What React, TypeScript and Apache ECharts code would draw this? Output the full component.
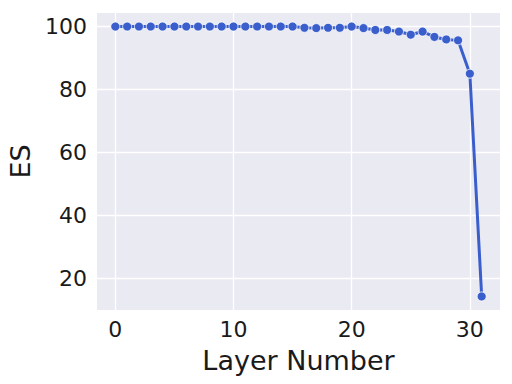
import React, { useEffect, useRef } from "react";
import * as echarts from "echarts";

const layers = Array.from({ length: 32 }, (_, i) => i);
const esValues = [
  100, 100, 100, 100, 100, 100, 100, 100, 100, 100, 100, 100, 100, 100, 100,
  100, 99.6, 99.5, 99.6, 99.6, 100, 99.5, 98.9, 98.9, 98.4, 97.4, 98.4, 96.7,
  95.9, 95.6, 85, 14.2,
];
const xTicks = [0, 10, 20, 30];
const yTicks = [20, 40, 60, 80, 100];

export default function App() {
  const ref = useRef<HTMLDivElement>(null);
  useEffect(() => {
    document.body.style.margin = "0";
    const chart = echarts.init(ref.current!, null, { renderer: "svg" });
    const font = "DejaVu Sans";
    chart.setOption({
      animation: false,
      backgroundColor: "#ffffff",
      grid: {
        left: 97,
        right: 12,
        top: 13,
        bottom: 74,
        show: true,
        backgroundColor: "#EAEAF2",
        borderWidth: 0,
        containLabel: false,
        outerBoundsMode: "none",
      },
      xAxis: {
        type: "value",
        min: -1.55,
        max: 32.55,
        name: "Layer Number",
        nameLocation: "middle",
        nameGap: 37,
        nameTextStyle: { fontFamily: font, fontSize: 27, color: "#1a1a1a" },
        axisLine: { show: false },
        axisTick: { show: false, customValues: xTicks },
        axisLabel: {
          customValues: xTicks,
          fontFamily: font,
          fontSize: 22,
          color: "#1a1a1a",
          margin: 8,
        },
        splitLine: { show: true, lineStyle: { color: "#ffffff", width: 1.3 } },
      },
      yAxis: {
        type: "value",
        min: 9.9,
        max: 104.3,
        name: "ES",
        nameLocation: "middle",
        nameGap: 61,
        nameTextStyle: { fontFamily: font, fontSize: 27, color: "#1a1a1a" },
        axisLine: { show: false },
        axisTick: { show: false, customValues: yTicks },
        axisLabel: {
          customValues: yTicks,
          fontFamily: font,
          fontSize: 22,
          color: "#1a1a1a",
          margin: 10,
        },
        splitLine: { show: true, lineStyle: { color: "#ffffff", width: 1.3 } },
      },
      series: [
        {
          type: "line",
          data: layers.map((l, i) => [l, esValues[i]]),
          symbol: "circle",
          symbolSize: 9,
          lineStyle: { color: "#3A5FCD", width: 3 },
          itemStyle: { color: "#3A5FCD", borderColor: "#ffffff", borderWidth: 0.8 },
        },
      ],
    });
    return () => chart.dispose();
  }, []);
  return <div ref={ref} style={{ width: 512, height: 384 }} />;
}
